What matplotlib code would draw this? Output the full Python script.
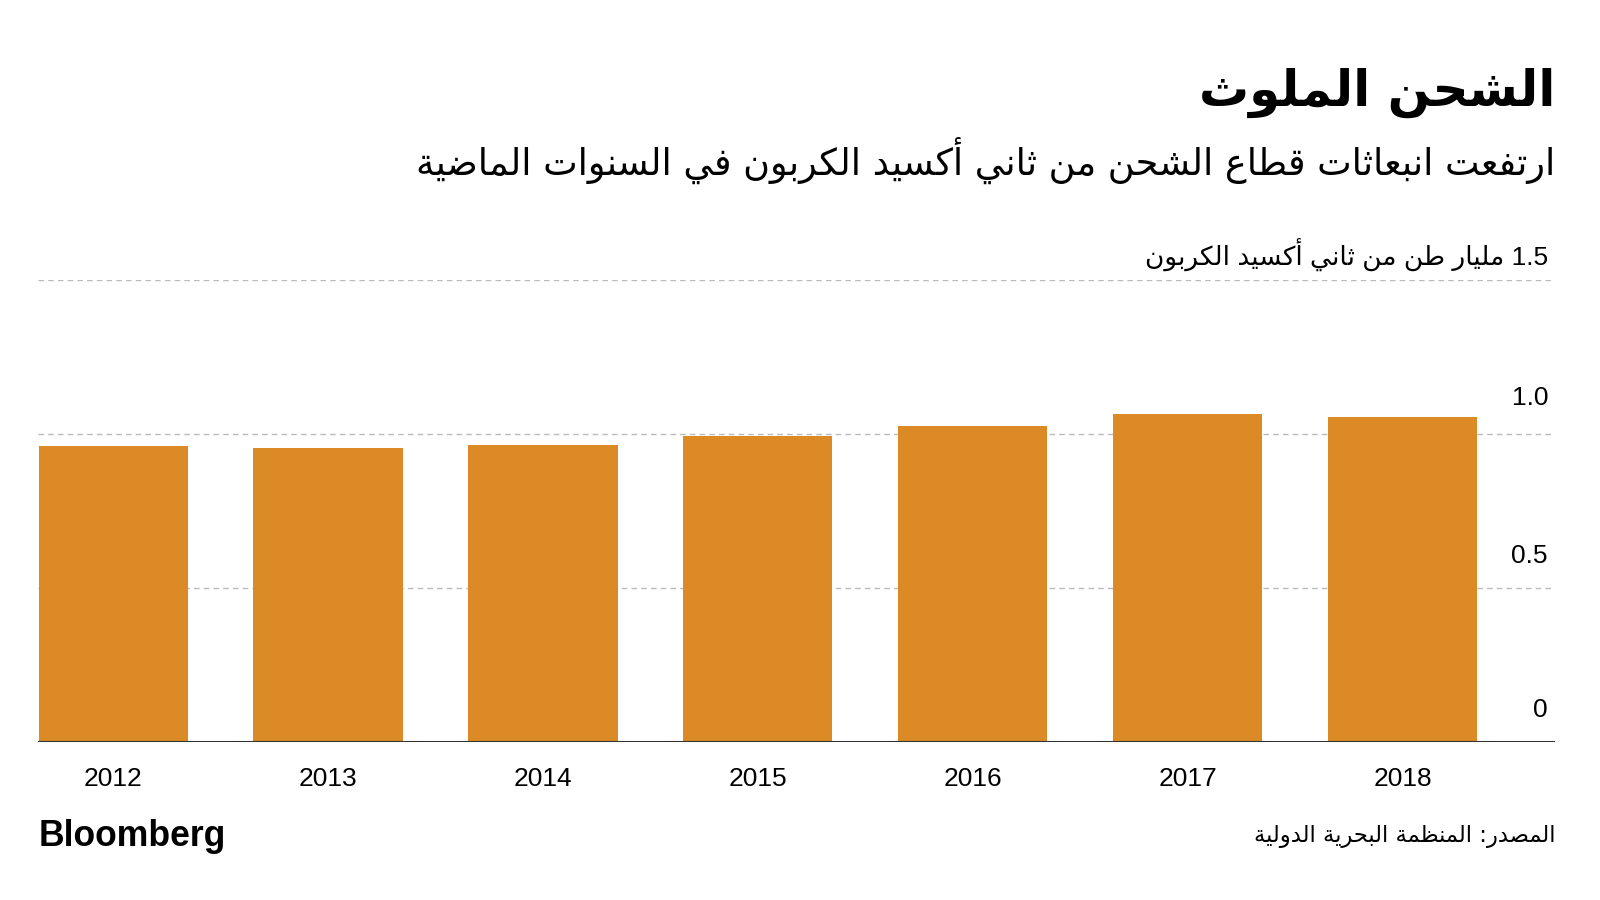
import re
import matplotlib
matplotlib.use("Agg")
import matplotlib.pyplot as plt
import matplotlib.transforms as mtransforms

# Data (billion tonnes CO2)
years = ["2012", "2013", "2014", "2015", "2016", "2017", "2018"]
emissions = [0.962, 0.955, 0.964, 0.995, 1.026, 1.064, 1.056]
y_ticks = [0, 0.5, 1.0, 1.5]
y_tick_labels = ["0", "0.5", "1.0", "1.5 مليار طن من ثاني أكسيد الكربون"]

title = "الشحن الملوث"
subtitle = "ارتفعت انبعاثات قطاع الشحن من ثاني أكسيد الكربون في السنوات الماضية"
source = "المصدر: المنظمة البحرية الدولية"

BAR_COLOR = "#DB8A25"

# --- minimal Arabic shaping (matplotlib has no complex text layout) ---
DUAL = {0x0626: 0xFE89, 0x0628: 0xFE8F, 0x062A: 0xFE95, 0x062B: 0xFE99,
        0x062C: 0xFE9D, 0x062D: 0xFEA1, 0x062E: 0xFEA5, 0x0633: 0xFEB1,
        0x0634: 0xFEB5, 0x0635: 0xFEB9, 0x0636: 0xFEBD, 0x0637: 0xFEC1,
        0x0638: 0xFEC5, 0x0639: 0xFEC9, 0x063A: 0xFECD, 0x0641: 0xFED1,
        0x0642: 0xFED5, 0x0643: 0xFED9, 0x0644: 0xFEDD, 0x0645: 0xFEE1,
        0x0646: 0xFEE5, 0x0647: 0xFEE9, 0x064A: 0xFEF1}
RIGHT = {0x0622: 0xFE81, 0x0623: 0xFE83, 0x0624: 0xFE85, 0x0625: 0xFE87,
         0x0627: 0xFE8D, 0x0629: 0xFE93, 0x062F: 0xFEA9, 0x0630: 0xFEAB,
         0x0631: 0xFEAD, 0x0632: 0xFEAF, 0x0648: 0xFEED, 0x0649: 0xFEEF}
LAMALEF = {0x0622: (0xFEF5, 0xFEF6), 0x0623: (0xFEF7, 0xFEF8),
           0x0625: (0xFEF9, 0xFEFA), 0x0627: (0xFEFB, 0xFEFC)}


def is_ar(c):
    return ord(c) in DUAL or ord(c) in RIGHT


def ar(text):
    out = []
    n = len(text)
    i = 0
    while i < n:
        c = text[i]
        o = ord(c)
        link_prev = i > 0 and ord(text[i - 1]) in DUAL and is_ar(c)
        if o == 0x0644 and i + 1 < n and ord(text[i + 1]) in LAMALEF:
            iso, fin = LAMALEF[ord(text[i + 1])]
            out.append(chr(fin if link_prev else iso))
            i += 2
            continue
        link_next = o in DUAL and i + 1 < n and is_ar(text[i + 1])
        if o in DUAL:
            f = DUAL[o] + (3 if link_prev and link_next else 1 if link_prev
                           else 2 if link_next else 0)
        elif o in RIGHT:
            f = RIGHT[o] + (1 if link_prev else 0)
        else:
            f = o
        out.append(chr(f))
        i += 1
    vis = "".join(out)[::-1]
    return re.sub(r"[0-9][0-9.]*", lambda m: m.group(0)[::-1], vis)


LATIN = ["Liberation Sans", "DejaVu Sans"]

fig = plt.figure(figsize=(16, 9), dpi=100)
ax = fig.add_axes([38 / 1600, 158 / 900, (1555 - 38) / 1600, (742 - 280) / 900])

x = range(len(years))
ax.bar(x, emissions, width=0.695, color=BAR_COLOR, zorder=2)
ax.set_xlim(-0.35, 6.71)
ax.set_ylim(0, 1.5)

for v in y_ticks[1:]:
    ax.axhline(v, color="#bbbbbb", lw=1, ls=(0, (4, 3)), zorder=1)
ax.axhline(0, color="#333333", lw=1.5, zorder=3)

for s in ax.spines.values():
    s.set_visible(False)
ax.set_yticks([])
ax.set_xticks(list(x))
ax.set_xticklabels(years, fontsize=19, family=LATIN)
ax.tick_params(axis="x", length=0, pad=18)

# y labels sit above their gridlines at the right
trans = mtransforms.blended_transform_factory(fig.transFigure, ax.transData)
offsets = {0: 32, 0.5: 32, 1.0: 36, 1.5: 25}
for v, lab in zip(y_ticks, y_tick_labels):
    off = mtransforms.offset_copy(trans, fig=fig, y=offsets[v], units="dots")
    ax.text(1548 / 1600, v, ar(lab), transform=off, ha="right", va="center",
            fontsize=19, family=LATIN, clip_on=False)

fig.text(1555 / 1600, 1 - 93 / 900, ar(title), ha="right", va="center",
         fontsize=36, fontweight="bold", family="DejaVu Sans")
fig.text(1555 / 1600, 1 - 160 / 900, ar(subtitle), ha="right", va="center",
         fontsize=26.4, family="DejaVu Sans")
fig.text(1555 / 1600, 1 - 836 / 900, ar(source), ha="right", va="center",
         fontsize=16.3, family="DejaVu Sans")
fig.text(39 / 1600, 1 - 836 / 900, "Bloomberg", ha="left", va="center",
         fontsize=25.6, fontweight="bold", family=LATIN)

fig.savefig("out.png", dpi=100, facecolor="white")
